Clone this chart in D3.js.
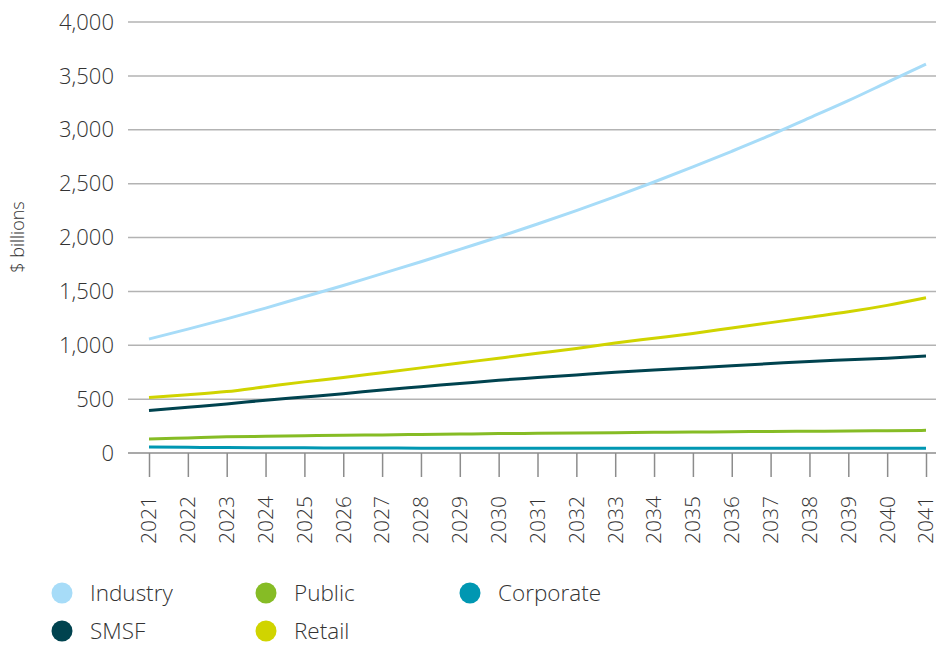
<!DOCTYPE html>
<html>
<head>
<meta charset="utf-8">
<script src="https://cdn.jsdelivr.net/npm/d3@7"></script>
<style>
  body { margin: 0; background: #fff; }
  svg { font-family: "Open Sans", "Noto Sans", sans-serif; font-weight: 300; }
</style>
</head>
<body>
<svg id="chart" width="950" height="646"></svg>
<script>
// Projected assets by fund type, $ billions
const years = d3.range(2021, 2042);
const yTicks = [0, 500, 1000, 1500, 2000, 2500, 3000, 3500, 4000];

const industry = [1058, 1150, 1245, 1345, 1450, 1555, 1665, 1775, 1890, 2005, 2125, 2250, 2380, 2515, 2655, 2800, 2950, 3110, 3270, 3440, 3610];
const retail = [515, 540, 570, 615, 660, 700, 745, 790, 835, 880, 925, 970, 1020, 1065, 1110, 1160, 1210, 1260, 1310, 1370, 1440];
const smsf = [395, 425, 455, 490, 520, 550, 585, 615, 645, 675, 700, 725, 750, 770, 790, 810, 830, 850, 865, 880, 900];
const publicSector = [130, 140, 150, 155, 160, 165, 168, 172, 176, 180, 183, 186, 189, 192, 195, 197, 200, 202, 204, 207, 210];
const corporate = [56, 53, 50, 49, 48, 47, 46, 45, 45, 45, 45, 44, 44, 43, 43, 43, 43, 43, 43, 43, 43];

const series = [
  { name: 'Industry', values: industry, color: '#a7dcf8' },
  { name: 'Retail', values: retail, color: '#d0d400' },
  { name: 'SMSF', values: smsf, color: '#00434f' },
  { name: 'Public', values: publicSector, color: '#86bc25' },
  { name: 'Corporate', values: corporate, color: '#0097b2' },
];

// legend order as in the original (row-major, 3 per row)
const legendOrder = ['Industry', 'Public', 'Corporate', 'SMSF', 'Retail'];

const svg = d3.select('#chart');
const x = d3.scalePoint().domain(years).range([149, 926]);
const y = d3.scaleLinear().domain([0, 4000]).range([453, 22]);

// gridlines
svg.append('g')
  .selectAll('line').data(yTicks.filter(d => d > 0)).enter().append('line')
  .attr('x1', 128).attr('x2', 936)
  .attr('y1', d => y(d)).attr('y2', d => y(d))
  .attr('stroke', '#b3b3b3').attr('stroke-width', 1.5);

// y tick labels
svg.append('g')
  .selectAll('text').data(yTicks).enter().append('text')
  .attr('x', 114).attr('y', d => y(d)).attr('dy', '0.35em')
  .attr('text-anchor', 'end')
  .attr('font-size', 22).attr('fill', '#333')
  .text(d3.format(','));

svg.append('text')
  .attr('transform', 'translate(24,237) rotate(-90)')
  .attr('text-anchor', 'middle').attr('font-size', 18).attr('fill', '#333')
  .text('$ billions');

// x axis
const xAxis = svg.append('g').attr('transform', `translate(0,${y(0)})`)
  .call(d3.axisBottom(x).tickSize(24).tickSizeOuter(0).tickPadding(0).tickFormat(''));
xAxis.select('.domain').attr('d', 'M128,0H936').attr('stroke', '#8c8c8c').attr('stroke-width', 1.5);
xAxis.selectAll('.tick line').attr('stroke', '#8c8c8c').attr('stroke-width', 1.5);

svg.append('g')
  .selectAll('text').data(years).enter().append('text')
  .attr('transform', d => `translate(${x(d)},496) rotate(-90)`)
  .attr('dy', '0.35em').attr('text-anchor', 'end')
  .attr('font-size', 21).attr('fill', '#333')
  .text(d => d);

// lines
const line = d3.line().x((d, i) => x(years[i])).y(d => y(d)).curve(d3.curveMonotoneX);
svg.append('g')
  .selectAll('path').data(series.slice().reverse()).enter().append('path')
  .attr('d', d => line(d.values))
  .attr('fill', 'none').attr('stroke', d => d.color).attr('stroke-width', 3);

// legend
const leg = svg.append('g')
  .selectAll('g').data(legendOrder.map(n => series.find(s => s.name === n))).enter().append('g')
  .attr('transform', (d, i) => `translate(${62 + (i % 3) * 204},${593 + Math.floor(i / 3) * 38})`);
leg.append('circle').attr('r', 10.5).attr('fill', d => d.color);
leg.append('text').attr('x', 28).attr('dy', '0.35em')
  .attr('font-size', 22.5).attr('fill', '#333')
  .text(d => d.name);
</script>
</body>
</html>
